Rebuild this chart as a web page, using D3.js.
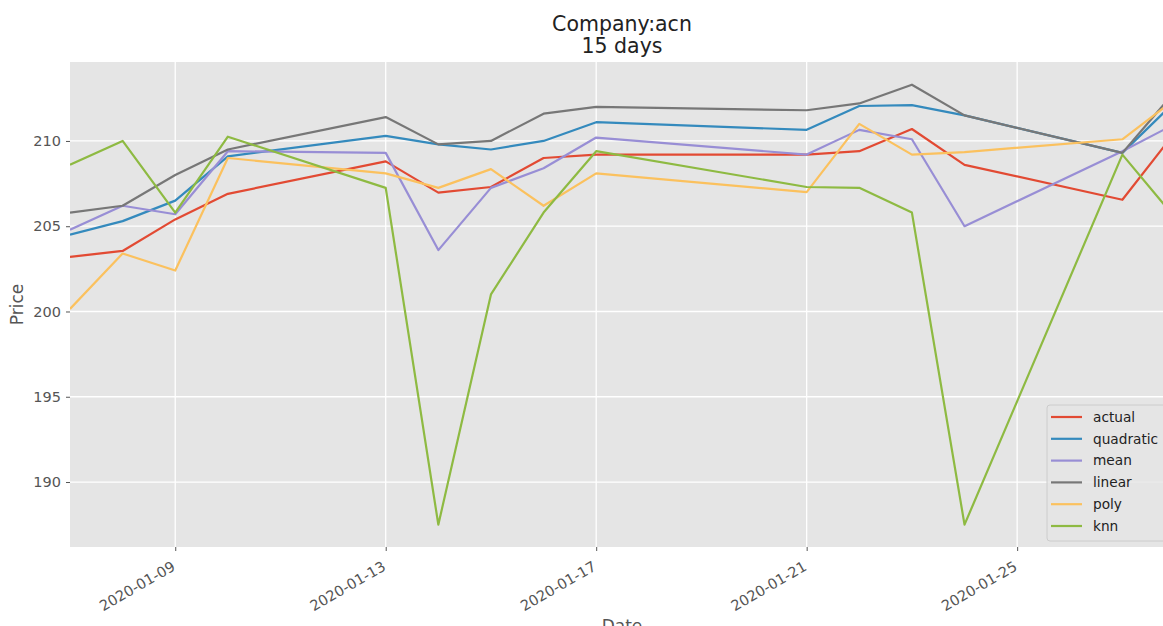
<!DOCTYPE html>
<html>
<head>
<meta charset="utf-8">
<script src="https://cdn.jsdelivr.net/npm/d3@7"></script>
<style>
  body { margin: 0; background: #fff; }
  svg { display: block; }
  svg text { font-family: "DejaVu Sans", sans-serif; }
</style>
</head>
<body>
<svg id="chart" width="1163" height="626"></svg>
<script>
// trading days shown
var dates = ["2020-01-07", "2020-01-08", "2020-01-09", "2020-01-10", "2020-01-13", "2020-01-14",
             "2020-01-15", "2020-01-16", "2020-01-17", "2020-01-21", "2020-01-22", "2020-01-23",
             "2020-01-24", "2020-01-27", "2020-01-28"];

var actual    = [203.2, 203.55, 205.4, 206.9, 208.8, 206.97, 207.3, 209.0, 209.2, 209.2, 209.4, 210.7, 208.6, 206.55, 210.5];
var quadratic = [204.5, 205.3, 206.5, 209.1, 210.3, 209.8, 209.5, 210.0, 211.1, 210.65, 212.05, 212.1, 211.5, 209.3, 212.3];
var mean      = [204.8, 206.2, 205.7, 209.4, 209.3, 203.6, 207.25, 208.4, 210.2, 209.2, 210.65, 210.1, 205.0, 209.4, 211.0];
var linear    = [205.8, 206.2, 208.0, 209.5, 211.4, 209.8, 210.0, 211.6, 212.0, 211.8, 212.2, 213.3, 211.5, 209.3, 212.9];
var poly      = [200.15, 203.4, 202.4, 209.0, 208.1, 207.25, 208.35, 206.2, 208.1, 207.0, 211.0, 209.2, 209.35, 210.1, 212.45];
var knn       = [208.6, 210.0, 205.8, 210.25, 207.25, 187.5, 201.0, 205.8, 209.4, 207.3, 207.25, 205.8, 187.5, 209.2, 205.5];

var seriesNames = ["actual", "quadratic", "mean", "linear", "poly", "knn"];
var seriesData = [actual, quadratic, mean, linear, poly, knn];
var colors = ["#E24A33", "#348ABD", "#988ED5", "#777777", "#FBC15E", "#8EBA42"];

var xTicks = ["2020-01-09", "2020-01-13", "2020-01-17", "2020-01-21", "2020-01-25"];
var yTicks = [190, 195, 200, 205, 210];

(function() {
    var parse = d3.utcParse("%Y-%m-%d");
    var fmt = d3.utcFormat("%Y-%m-%d");

    // plot panel edges (right edge runs past the picture, as in the original)
    var pLeft = 70, pRight = 1175, pTop = 62, pBottom = 547;

    var svg = d3.select("#chart");

    var x = d3.scaleUtc()
        .domain([parse(dates[0]), parse(dates[dates.length - 1])])
        .range([pLeft, pRight]);
    var y = d3.scaleLinear()
        .domain([186.19, 214.63])
        .range([pBottom, pTop]);

    // panel background
    svg.append("rect")
        .attr("x", pLeft).attr("y", pTop)
        .attr("width", pRight - pLeft).attr("height", pBottom - pTop)
        .attr("fill", "#E5E5E5");

    svg.append("clipPath").attr("id", "clip")
      .append("rect")
        .attr("x", pLeft).attr("y", pTop)
        .attr("width", pRight - pLeft).attr("height", pBottom - pTop);

    // grid
    var grid = svg.append("g");
    grid.selectAll("line.gx")
        .data(xTicks)
        .enter().append("line")
        .attr("class", "gx")
        .attr("x1", function(d) { return x(parse(d)); })
        .attr("x2", function(d) { return x(parse(d)); })
        .attr("y1", pTop).attr("y2", pBottom)
        .attr("stroke", "#fff").attr("stroke-width", 1.3);
    grid.selectAll("line.gy")
        .data(yTicks)
        .enter().append("line")
        .attr("class", "gy")
        .attr("x1", pLeft).attr("x2", pRight)
        .attr("y1", function(d) { return y(d); })
        .attr("y2", function(d) { return y(d); })
        .attr("stroke", "#fff").attr("stroke-width", 1.3);

    // axes
    var xAxis = svg.append("g")
        .attr("transform", "translate(0," + pBottom + ")")
        .call(d3.axisBottom(x)
            .tickValues(xTicks.map(parse))
            .tickFormat(fmt)
            .tickSize(4)
            .tickPadding(4));
    xAxis.attr("font-family", null).attr("font-size", null);
    xAxis.select(".domain").remove();
    xAxis.selectAll(".tick line").attr("stroke", "#555");
    xAxis.selectAll(".tick text")
        .attr("fill", "#555")
        .style("font-size", "14.5px")
        .attr("text-anchor", "end")
        .attr("y", 0)
        .attr("dy", "0.35em")
        .attr("transform", "translate(-2,18) rotate(-30)");

    var yAxis = svg.append("g")
        .attr("transform", "translate(" + pLeft + ",0)")
        .call(d3.axisLeft(y)
            .tickValues(yTicks)
            .tickSize(4)
            .tickPadding(5));
    yAxis.attr("font-family", null).attr("font-size", null);
    yAxis.select(".domain").remove();
    yAxis.selectAll(".tick line").attr("stroke", "#555");
    yAxis.selectAll(".tick text")
        .attr("fill", "#555")
        .style("font-size", "14.5px");

    // lines
    var line = d3.line()
        .x(function(d, i) { return x(parse(dates[i])); })
        .y(function(d) { return y(d); });

    svg.append("g")
        .attr("clip-path", "url(#clip)")
      .selectAll("path")
        .data(seriesData)
        .enter().append("path")
        .attr("d", line)
        .attr("fill", "none")
        .attr("stroke", function(d, i) { return colors[i]; })
        .attr("stroke-width", 2.2)
        .attr("stroke-linejoin", "round");

    // title
    svg.append("text")
        .attr("x", 622).attr("y", 31)
        .attr("text-anchor", "middle")
        .style("font-size", "20.5px")
        .attr("fill", "#222")
        .text("Company:acn");
    svg.append("text")
        .attr("x", 622).attr("y", 53)
        .attr("text-anchor", "middle")
        .style("font-size", "20.5px")
        .attr("fill", "#222")
        .text("15 days");

    // axis labels
    svg.append("text")
        .attr("transform", "translate(23," + ((pTop + pBottom) / 2) + ") rotate(-90)")
        .attr("text-anchor", "middle")
        .style("font-size", "17px")
        .attr("fill", "#555")
        .text("Price");
    svg.append("text")
        .attr("x", 622).attr("y", 632)
        .attr("text-anchor", "middle")
        .style("font-size", "17px")
        .attr("fill", "#555")
        .text("Date");

    // legend
    var legend = svg.append("g");
    legend.append("rect")
        .attr("x", 1047).attr("y", 405)
        .attr("width", 130).attr("height", 136)
        .attr("rx", 3)
        .attr("fill", "#E5E5E5").attr("fill-opacity", 0.8)
        .attr("stroke", "#CCCCCC").attr("stroke-width", 1);

    var items = legend.selectAll("g.item")
        .data(seriesNames)
        .enter().append("g")
        .attr("class", "item")
        .attr("transform", function(d, i) { return "translate(0," + (417 + i * 21.8) + ")"; });
    items.append("line")
        .attr("x1", 1051).attr("x2", 1082)
        .attr("stroke", function(d, i) { return colors[i]; })
        .attr("stroke-width", 2.2);
    items.append("text")
        .attr("x", 1093)
        .attr("dy", "0.35em")
        .style("font-size", "13.7px")
        .attr("fill", "#222")
        .text(function(d) { return d; });
})();
</script>
</body>
</html>
